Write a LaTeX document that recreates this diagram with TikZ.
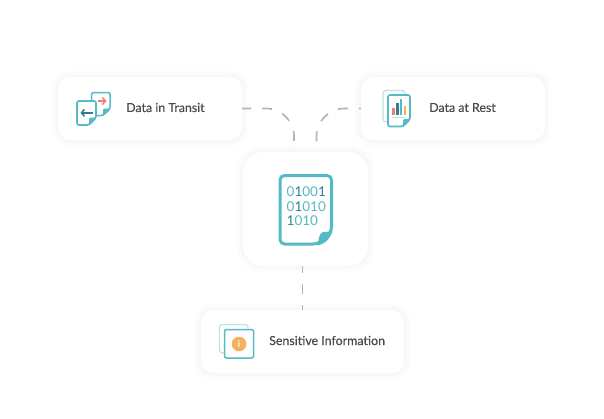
\documentclass[tikz,border=0pt]{standalone}
\usepackage{fontspec}
\setmainfont{Lato}
\newfontfamily\cardfont{Lato}[FakeBold=0.25]
\usetikzlibrary{positioning, arrows.meta}
\definecolor{tealline}{HTML}{54BAC5}
\definecolor{tealpale}{HTML}{BDE3E7}
\definecolor{tealdark}{HTML}{2F7F8E}
\definecolor{inkgray}{HTML}{444B50}
\definecolor{dashgray}{HTML}{B4B4B4}
\definecolor{coral}{HTML}{EE7F6E}
\definecolor{amber}{HTML}{F3B25F}
\newcommand{\dk}[1]{\textcolor{tealdark}{#1}}
\tikzset{
  softshadow/.style={preaction={fill=black, opacity=0.008, draw=black, line width=#1}},
  card/.style={fill=white, rounded corners=12pt, inner sep=0pt,
    softshadow=14pt, softshadow=10pt, softshadow=6pt, softshadow=3pt},
  cardlabel/.style={text=inkgray, font=\cardfont\fontsize{12.4}{14}\selectfont, anchor=west, inner sep=0pt},
  link/.style={draw=dashgray, line width=1.7pt, dash pattern=on 10pt off 11pt},
  sheet/.style={draw=tealline, line width=1.7pt, fill=white, rounded corners=2pt, line join=round},
  palesheet/.style={draw=tealpale, line width=1.3pt, fill=white, rounded corners=3pt},
  barb/.style={line width=1.5pt, -{Straight Barb[length=3pt, width=7pt]}},
  bar/.style={line width=2.6pt},
}
\begin{document}
\begin{tikzpicture}[x=1pt, y=-1pt]
    \useasboundingbox (0, 0) rectangle (604, 418);

    % Cards
    \node[card, minimum width=184pt, minimum height=63pt] (transit) at (150, 108.5) {};
    \node[card, minimum width=184pt, minimum height=63pt] (rest) at (453, 108.5) {};
    \node[card, minimum width=125pt, minimum height=114pt, rounded corners=20pt] (core) at (305.5, 209) {};
    \node[card, minimum width=203pt, minimum height=63pt] (sensitive) at (302.5, 341.5) {};

    % Labels
    \node[cardlabel] (transitlabel) at (126, 107.5) {Data in Transit};
    \node[cardlabel] (restlabel) at (429, 107.5) {Data at Rest};
    \node[cardlabel] (sensitivelabel) at (269, 340.5) {Sensitive Information};

    % Connectors
    \draw[link, dash phase=1pt, rounded corners=28pt] (transit.east) -| ([xshift=-11.5pt]core.north);
    \draw[link, dash phase=8pt, rounded corners=28pt] (rest.west) -| ([xshift=11pt]core.north);
    \draw[link, dash phase=3pt] (core.south -| sensitive.north) -- (sensitive.north);

    % Icon: two sheets with arrows
    \draw[sheet, line width=1.5pt] (91.5, 92.5) -- (110, 92.5) -- (110, 109) -- (103, 115.5) -- (91.5, 115.5) -- cycle;
    \fill[tealline] (110.5, 108.5) -- (103, 116) -- (103, 110) -- (104, 108.5) -- cycle;
    \draw[barb, coral] (97.5, 101) -- (106.5, 101);
    \draw[sheet] (77, 101) -- (96, 101) -- (96, 118) -- (89, 125) -- (77, 125) -- cycle;
    \fill[tealline] (96.5, 117.5) -- (89, 125.5) -- (89, 119) -- (90, 117.5) -- cycle;
    \draw[barb, tealdark] (92.5, 112.8) -- (80.5, 112.8);

    % Icon: report with bars
    \draw[palesheet] (383, 90.5) rectangle (405, 122);
    \draw[sheet] (388, 95) -- (410, 95) -- (410, 119.5) -- (403, 126.5) -- (388, 126.5) -- cycle;
    \fill[tealline] (410.5, 119) -- (403, 127) -- (403, 120.5) -- (404, 119) -- cycle;
    \draw[bar, coral] (393.3, 114.5) -- (393.3, 108);
    \draw[bar, tealdark] (397.2, 114.5) -- (397.2, 103);
    \draw[bar, tealline] (401.1, 114.5) -- (401.1, 98.5);
    \draw[bar, amber] (405, 114.5) -- (405, 106);
    \draw[tealpale, line width=1pt] (392, 117) -- (406, 117);

    % Center document
    \draw[sheet, line width=3pt, rounded corners=4.5pt] (280, 175.5) -- (331.5, 175.5) -- (331.5, 232) -- (318, 244) -- (280, 244) -- cycle;
    \fill[tealline] (332.5, 231.5) .. controls (329, 240) and (325, 244) .. (317, 245.5) .. controls (319.5, 240) and (318, 234) .. (323, 232) -- cycle;
    \node[anchor=west, inner sep=0pt, align=left, text=tealline, font=\fontsize{13.5}{14.5}\selectfont] (bits) at (286.5, 206.2) {0\dk{1}00\dk{1}\\0\dk{1}010\\\dk{1}010};

    % Icon: info sheets
    \draw[palesheet] (219.5, 324.5) rectangle (248, 353);
    \draw[sheet, line width=1.5pt] (224.5, 329.5) rectangle (253.5, 358);
    \fill[amber] (239, 344) circle (7.3pt);
    \node[text=white, font=\bfseries\fontsize{9}{9}\selectfont, inner sep=0pt] (infomark) at (239, 344) {i};
\end{tikzpicture}
\end{document}
